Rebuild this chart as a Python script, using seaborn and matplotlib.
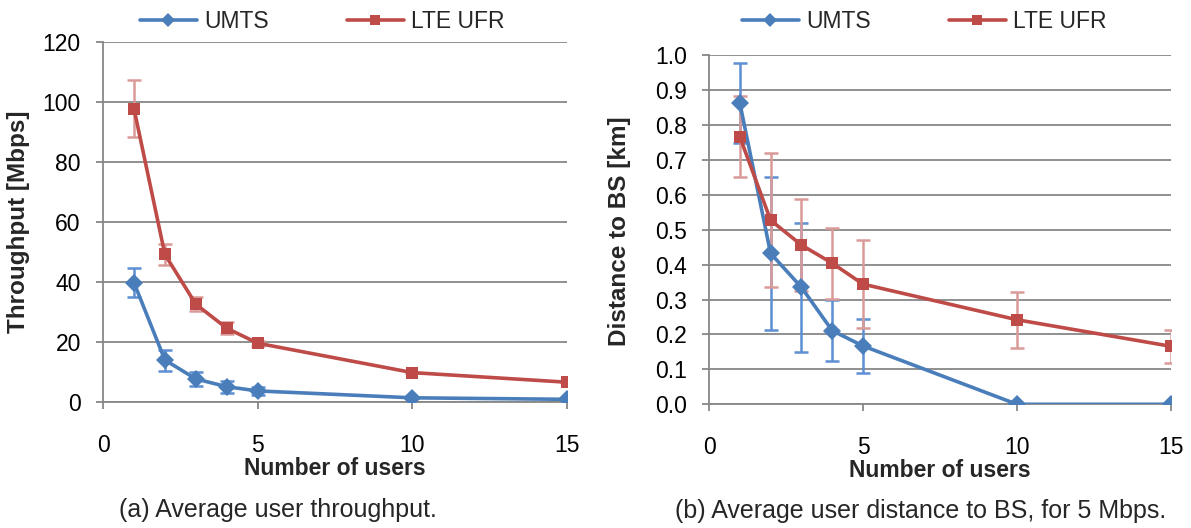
import numpy as np
import pandas as pd
import matplotlib
matplotlib.use("Agg")
import matplotlib.pyplot as plt
import seaborn as sns

# ---- data -------------------------------------------------------------
users = [1, 2, 3, 4, 5, 10, 15]
series = ["UMTS", "LTE UFR"]

thr_umts = [39.8, 14.0, 7.7, 5.1, 3.7, 1.4, 0.9]
thr_umts_err = [4.8, 3.5, 2.4, 2.0, 1.2, 0.0, 0.0]
thr_lte = [97.8, 49.2, 32.6, 24.6, 19.6, 9.8, 6.6]
thr_lte_err = [9.5, 3.5, 2.4, 2.0, 0.8, 0.0, 0.0]

dist_umts = [0.863, 0.432, 0.335, 0.211, 0.167, 0.0, 0.0]
dist_umts_err = [0.115, 0.220, 0.184, 0.087, 0.076, 0.0, 0.0]
dist_lte = [0.766, 0.527, 0.456, 0.404, 0.344, 0.242, 0.166]
dist_lte_err = [0.116, 0.192, 0.133, 0.102, 0.125, 0.080, 0.047]

x_ticks = [0, 5, 10, 15]
thr_ticks = [0, 20, 40, 60, 80, 100, 120]
dist_ticks = [round(v, 1) for v in np.arange(0, 1.01, 0.1)]

captions = ["(a) Average user throughput.",
            "(b) Average user distance to BS, for 5 Mbps."]

# ---- style ------------------------------------------------------------
sns.set_theme(style="white")
plt.rcParams["font.family"] = ["Liberation Sans", "DejaVu Sans"]

line_colors = {"UMTS": "#4A7EBB", "LTE UFR": "#BE4B48"}
err_colors = {"UMTS": "#5C8FD3", "LTE UFR": "#DA9A98"}
markers = {"UMTS": "D", "LTE UFR": "s"}
grid_col = "#878787"

fig = plt.figure(figsize=(11.91, 5.28), dpi=100)
ax1 = fig.add_axes([0.0865, 0.2386, 0.3896, 0.6819])
ax2 = fig.add_axes([0.5953, 0.2343, 0.3879, 0.6615])


def draw_panel(ax, umts, umts_err, lte, lte_err, yticks, ylabel, fmt):
    df = pd.DataFrame({
        "users": users * 2,
        "value": list(umts) + list(lte),
        "tech": ["UMTS"] * len(users) + ["LTE UFR"] * len(users),
    })
    for name, vals, errs in (("UMTS", umts, umts_err), ("LTE UFR", lte, lte_err)):
        ax.errorbar(users, vals, yerr=errs, fmt="none", ecolor=err_colors[name],
                    elinewidth=1.8, capsize=5, capthick=1.8, zorder=2)
    sns.lineplot(data=df, x="users", y="value", hue="tech", style="tech",
                 hue_order=series, style_order=series, palette=line_colors,
                 markers=markers, dashes=False, linewidth=2.6, markersize=9,
                 markeredgewidth=0, ax=ax, zorder=3, legend=True)
    ax.set_xlim(0, 15)
    ax.set_ylim(yticks[0], yticks[-1])
    ax.set_xticks(x_ticks)
    ax.set_yticks(yticks)
    ax.set_yticklabels([fmt.format(v) for v in yticks])
    ax.yaxis.grid(True, color=grid_col, linewidth=1.3)
    ax.xaxis.grid(False)
    for s in ("top", "right"):
        ax.spines[s].set_visible(False)
    for s in ("left", "bottom"):
        ax.spines[s].set_color(grid_col)
        ax.spines[s].set_linewidth(1.3)
    ax.tick_params(axis="both", which="major", direction="out", length=5,
                   width=1.3, color=grid_col, labelsize=16.5, labelcolor="black",
                   left=True, bottom=True)
    ax.tick_params(axis="x", pad=18)
    ax.tick_params(axis="y", pad=11)
    ax.set_xlabel("Number of users", fontsize=16.5, fontweight="bold", labelpad=0)
    ax.set_ylabel(ylabel, fontsize=17.5, fontweight="bold")
    handles, labels = ax.get_legend_handles_labels()
    ax.get_legend().remove()
    return handles, labels


h1, l1 = draw_panel(ax1, thr_umts, thr_umts_err, thr_lte, thr_lte_err,
                    thr_ticks, "Throughput [Mbps]", "{:.0f}")
h2, l2 = draw_panel(ax2, dist_umts, dist_umts_err, dist_lte, dist_lte_err,
                    dist_ticks, "Distance to BS [km]", "{:.1f}")

# ylabel anchor sits at the right-hand edge of the rotated text
ax1.yaxis.set_label_coords(30 / 1191, 1 - 222 / 528, transform=fig.transFigure)
ax2.yaxis.set_label_coords(631 / 1191, 1 - 231 / 528, transform=fig.transFigure)

for ax, h, l, cx in ((ax1, h1, l1, 322), (ax2, h2, l2, 924)):
    leg = ax.legend(h, l, loc="center", bbox_to_anchor=(cx / 1191, 1 - 22 / 528),
                    bbox_transform=fig.transFigure, ncol=2, frameon=False,
                    fontsize=16.5, handlelength=2.5, handletextpad=0.3,
                    columnspacing=3.4, borderpad=0, borderaxespad=0)
    for line in leg.get_lines():
        line.set_linewidth(2.6)
        line.set_markersize(7.5)

fig.text(278 / 1191, 1 - 510 / 528, captions[0], fontsize=18,
         ha="center", va="center")
fig.text(921 / 1191, 1 - 511 / 528, captions[1], fontsize=18,
         ha="center", va="center")

fig.savefig("out.png", dpi=100)
